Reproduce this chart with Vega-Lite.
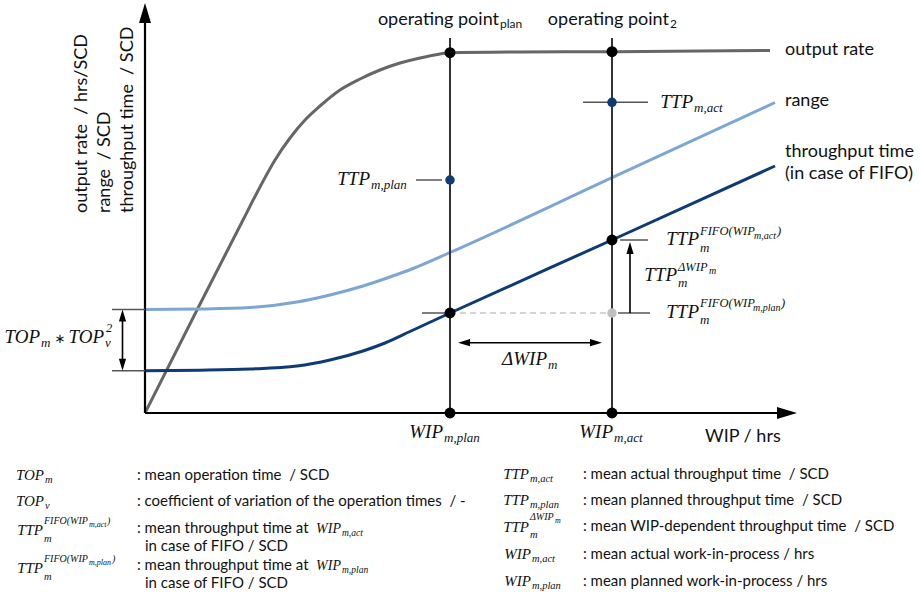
{
"$schema": "https://vega.github.io/schema/vega-lite/v6.json",
"width": 921, "height": 592,
"autosize": {"type": "fit", "contains": "padding"},
"padding": 0,
"background": "white",
"config": {"view": {"stroke": null}},
"datasets": {
"curves": [
{"s":"output","o":1,"x":0,"y":0},{"s":"output","o":2,"x":8,"y":25.75},{"s":"output","o":3,"x":15.077,"y":48.25},{"s":"output","o":4,"x":17.692,"y":56.5},{"s":"output","o":5,"x":20,"y":63.25},{"s":"output","o":6,"x":22.308,"y":68.75},{"s":"output","o":7,"x":24.615,"y":73.25},{"s":"output","o":8,"x":26.923,"y":76.75},{"s":"output","o":9,"x":30,"y":80.75},{"s":"output","o":10,"x":33.077,"y":83.5},{"s":"output","o":11,"x":36.154,"y":85.75},{"s":"output","o":12,"x":39.231,"y":87.5},{"s":"output","o":13,"x":42.308,"y":88.75},{"s":"output","o":14,"x":45.385,"y":89.75},{"s":"output","o":15,"x":46.923,"y":90.075},{"s":"output","o":16,"x":57.692,"y":90.25},{"s":"output","o":17,"x":71.846,"y":90.325},{"s":"output","o":18,"x":85.385,"y":90.5},{"s":"output","o":19,"x":96.154,"y":90.625},
{"s":"range","o":1,"x":0,"y":25.875},{"s":"range","o":2,"x":8.462,"y":26},{"s":"range","o":3,"x":16.154,"y":26.375},{"s":"range","o":4,"x":23.385,"y":27.75},{"s":"range","o":5,"x":28.462,"y":29.5},{"s":"range","o":6,"x":33.538,"y":31.75},{"s":"range","o":7,"x":37.692,"y":34},{"s":"range","o":8,"x":41.231,"y":36.125},{"s":"range","o":9,"x":46.923,"y":40.125},{"s":"range","o":10,"x":71.846,"y":58.825},{"s":"range","o":11,"x":96.923,"y":77.625},
{"s":"tput","o":1,"x":0,"y":10.575},{"s":"tput","o":2,"x":8.462,"y":10.7},{"s":"tput","o":3,"x":16.154,"y":11},{"s":"tput","o":4,"x":23.385,"y":11.75},{"s":"tput","o":5,"x":28.462,"y":13.25},{"s":"tput","o":6,"x":33.538,"y":15.5},{"s":"tput","o":7,"x":36.923,"y":17.5},{"s":"tput","o":8,"x":40.769,"y":20.375},{"s":"tput","o":9,"x":46.923,"y":25},{"s":"tput","o":10,"x":71.846,"y":43.25},{"s":"tput","o":11,"x":96.923,"y":61.75}
],
"axes": [{"x":0,"y":0,"x2":0,"y2":99.5},{"x":0,"y":0,"x2":98.769,"y2":0}],
"guides": [{"x":46.923,"y":0,"x2":46.923,"y2":93.75},{"x":71.846,"y":0,"x2":71.846,"y2":93.75}],
"ticks": [
{"x":41.692,"y":58.25,"x2":45.692,"y2":58.25},
{"x":67.385,"y":77.675,"x2":77.385,"y2":77.675},
{"x":73.077,"y":43.25,"x2":77.385,"y2":43.25},
{"x":72.769,"y":25,"x2":77.692,"y2":25},
{"x":42.615,"y":25,"x2":46.923,"y2":25},
{"x":-5.077,"y":25.875,"x2":0,"y2":25.875},
{"x":-5.077,"y":10.575,"x2":0,"y2":10.575}
],
"arrows": [
{"x":-3.462,"y":12.075,"x2":-3.462,"y2":24.375},
{"x":74.615,"y":25,"x2":74.615,"y2":41.25},
{"x":49.077,"y":17.575,"x2":69.385,"y2":17.575}
],
"dashed": [{"x":46.923,"y":25,"x2":71.846,"y2":25}],
"heads": [
{"x":-3.462,"y":24.375,"dir":"up"},
{"x":-3.462,"y":12.075,"dir":"down"},
{"x":74.615,"y":41.25,"dir":"up"},
{"x":49.077,"y":17.575,"dir":"left"},
{"x":69.385,"y":17.575,"dir":"right"}
],
"bigheads": [{"x":0,"y":100,"dir":"up"},{"x":98.769,"y":0,"dir":"right"}],
"dots": [
{"k":"black","x":46.923,"y":90.075},{"k":"black","x":71.846,"y":90.325},{"k":"black","x":46.923,"y":25},{"k":"black","x":71.846,"y":43.25},{"k":"black","x":46.923,"y":0},{"k":"black","x":71.846,"y":0},
{"k":"blue","x":46.923,"y":58.25},{"k":"blue","x":71.846,"y":77.675},
{"k":"gray","x":71.846,"y":25}
],
"sans": [
{"t":"operating point","x":54.462,"y":97.125,"r":"op"},
{"t":"operating point","x":80.615,"y":97.125,"r":"op"},
{"t":"plan","x":54.615,"y":96.25,"r":"os"},
{"t":"2","x":80.769,"y":96.25,"r":"os"},
{"t":"output rate","x":98.462,"y":90.75,"r":"lab"},
{"t":"range","x":98.462,"y":78,"r":"lab"},
{"t":"throughput time","x":98.462,"y":65.25,"r":"lab"},
{"t":"(in case of FIFO)","x":98.462,"y":59.75,"r":"lab"},
{"t":"WIP / hrs","x":86.154,"y":-6,"r":"lab"},
{"t":"output rate\u00a0 / hrs/SCD","x":-9.692,"y":50,"r":"yt"},
{"t":"range\u00a0 / SCD","x":-6.154,"y":50,"r":"yt"},
{"t":"throughput time\u00a0 / SCD","x":-2.615,"y":50,"r":"yt"},
{"t":": mean operation time\u00a0 / SCD","x":-1.231,"y":-15.5,"r":"leg"},
{"t":": coefficient of variation of the operation times\u00a0 / -","x":-1.231,"y":-22,"r":"leg"},
{"t":": mean throughput time at","x":-1.231,"y":-28.75,"r":"leg"},
{"t":"in case of FIFO / SCD","x":0,"y":-33.25,"r":"leg"},
{"t":": mean throughput time at","x":-1.231,"y":-38,"r":"leg"},
{"t":"in case of FIFO / SCD","x":0,"y":-42.5,"r":"leg"},
{"t":": mean actual throughput time\u00a0 / SCD","x":67.385,"y":-15.25,"r":"leg"},
{"t":": mean planned throughput time\u00a0 / SCD","x":67.385,"y":-21.75,"r":"leg"},
{"t":": mean WIP-dependent throughput time\u00a0 / SCD","x":67.385,"y":-28.25,"r":"leg"},
{"t":": mean actual work-in-process / hrs","x":67.385,"y":-35.25,"r":"leg"},
{"t":": mean planned work-in-process / hrs","x":67.385,"y":-42,"r":"leg"}
],
"math": [
{"t":"TTP","x":34.615,"y":57,"r":"pm"},
{"t":"m,plan","x":34.769,"y":56,"r":"ps"},
{"t":"TTP","x":84.308,"y":76.25,"r":"pm"},
{"t":"m,act","x":84.462,"y":75.25,"r":"ps"},
{"t":"TTP","x":85.231,"y":42,"r":"pm"},
{"t":"m","x":85.385,"y":40.25,"r":"ps"},
{"t":"FIFO(WIP","x":85.385,"y":44.5,"r":"pp"},
{"t":"m,act","x":93.692,"y":43.5,"r":"pq"},
{"t":")","x":97.231,"y":44.5,"r":"pp"},
{"t":"TTP","x":81.846,"y":33,"r":"pm"},
{"t":"m","x":82,"y":31.5,"r":"ps"},
{"t":"ΔWIP","x":82,"y":35.5,"r":"pp"},
{"t":"m","x":86.769,"y":34.75,"r":"pq"},
{"t":"TTP","x":85.231,"y":23.75,"r":"pm"},
{"t":"m","x":85.385,"y":22.25,"r":"ps"},
{"t":"FIFO(WIP","x":85.385,"y":26.5,"r":"pp"},
{"t":"m,plan","x":93.538,"y":25.5,"r":"pq"},
{"t":")","x":97.846,"y":26.5,"r":"pp"},
{"t":"ΔWIP","x":61.846,"y":12,"r":"pm"},
{"t":"m","x":62,"y":11,"r":"ps"},
{"t":"WIP","x":45.846,"y":-6.25,"r":"pm"},
{"t":"m,plan","x":46,"y":-7.25,"r":"ps"},
{"t":"WIP","x":72,"y":-6.25,"r":"pm"},
{"t":"m,act","x":72.154,"y":-7.25,"r":"ps"},
{"t":"TOP","x":-16.154,"y":17.5,"r":"pm"},
{"t":"m","x":-16,"y":16.5,"r":"ps"},
{"t":"∗","x":-13.077,"y":17.5,"r":"pa"},
{"t":"TOP","x":-6.308,"y":17.5,"r":"pm"},
{"t":"v","x":-6.154,"y":16.5,"r":"ps"},
{"t":"2","x":-6,"y":20.25,"r":"pp"},
{"t":"TOP","x":-15.538,"y":-16.75,"r":"lm"},
{"t":"m","x":-15.385,"y":-17.5,"r":"ls"},
{"t":"TOP","x":-15.538,"y":-23.25,"r":"lm"},
{"t":"v","x":-15.385,"y":-24,"r":"ls"},
{"t":"TTP","x":-15.692,"y":-30.5,"r":"lm"},
{"t":"m","x":-15.538,"y":-32.25,"r":"ls"},
{"t":"FIFO(WIP","x":-15.538,"y":-27.75,"r":"lp"},
{"t":"m,act","x":-8.615,"y":-28.5,"r":"lq"},
{"t":")","x":-5.846,"y":-27.75,"r":"lp"},
{"t":"WIP","x":30.154,"y":-30,"r":"dm"},
{"t":"m,act","x":30.308,"y":-30.75,"r":"ds"},
{"t":"TTP","x":-15.692,"y":-40,"r":"lm"},
{"t":"m","x":-15.538,"y":-41.75,"r":"ls"},
{"t":"FIFO(WIP","x":-15.538,"y":-37.25,"r":"lp"},
{"t":"m,plan","x":-8.615,"y":-38,"r":"lq"},
{"t":")","x":-5.077,"y":-37.25,"r":"lp"},
{"t":"WIP","x":30.154,"y":-39.25,"r":"dm"},
{"t":"m,plan","x":30.308,"y":-40,"r":"ds"},
{"t":"TTP","x":59.077,"y":-16.5,"r":"lm"},
{"t":"m,act","x":59.231,"y":-17.25,"r":"ls"},
{"t":"TTP","x":59.077,"y":-23,"r":"lm"},
{"t":"m,plan","x":59.231,"y":-23.75,"r":"ls"},
{"t":"TTP","x":59.077,"y":-29.75,"r":"lm"},
{"t":"m","x":59.231,"y":-31.25,"r":"ls"},
{"t":"ΔWIP","x":59.231,"y":-26.75,"r":"lp"},
{"t":"m","x":63.077,"y":-27.5,"r":"lq"},
{"t":"WIP","x":59.385,"y":-36.5,"r":"lm"},
{"t":"m,act","x":59.538,"y":-37.25,"r":"ls"},
{"t":"WIP","x":59.385,"y":-43.25,"r":"lm"},
{"t":"m,plan","x":59.538,"y":-44,"r":"ls"}
]
},
"encoding": {
"x": {"field": "x", "type": "quantitative", "axis": null, "scale": {"domain": [-22.3077, 119.3846], "nice": false, "zero": false}},
"y": {"field": "y", "type": "quantitative", "axis": null, "scale": {"domain": [-44.75, 103.25], "nice": false, "zero": false}}
},
"layer": [
{"data": {"name": "curves"}, "mark": {"type": "line", "interpolate": "monotone", "strokeWidth": 3, "strokeCap": "butt"},
 "encoding": {"color": {"field": "s", "type": "nominal", "scale": {"domain": ["output", "range", "tput"], "range": ["#666666", "#7ea6d3", "#0e3b74"]}, "legend": null}, "order": {"field": "o", "type": "quantitative"}}},
{"data": {"name": "guides"}, "mark": {"type": "rule", "color": "#333333", "strokeWidth": 2}, "encoding": {"x2": {"field": "x2"}, "y2": {"field": "y2"}}},
{"data": {"name": "axes"}, "mark": {"type": "rule", "color": "#000000", "strokeWidth": 2.2}, "encoding": {"x2": {"field": "x2"}, "y2": {"field": "y2"}}},
{"data": {"name": "ticks"}, "mark": {"type": "rule", "color": "#555555", "strokeWidth": 1.5}, "encoding": {"x2": {"field": "x2"}, "y2": {"field": "y2"}}},
{"data": {"name": "dashed"}, "mark": {"type": "rule", "color": "#c8c8c8", "strokeWidth": 1.5, "strokeDash": [6, 4]}, "encoding": {"x2": {"field": "x2"}, "y2": {"field": "y2"}}},
{"data": {"name": "arrows"}, "mark": {"type": "rule", "color": "#000000", "strokeWidth": 1.6}, "encoding": {"x2": {"field": "x2"}, "y2": {"field": "y2"}}},
{"data": {"name": "heads"}, "mark": {"type": "point", "filled": true, "opacity": 1, "color": "#000000", "strokeWidth": 0, "size": 144},
 "encoding": {"shape": {"field": "dir", "type": "nominal", "scale": {"domain": ["up", "down", "left", "right"], "range": ["M0,-1L0.6,1L-0.6,1Z", "M0,1L0.6,-1L-0.6,-1Z", "M-1,0L1,-0.6L1,0.6Z", "M1,0L-1,-0.6L-1,0.6Z"]}, "legend": null}}},
{"data": {"name": "bigheads"}, "mark": {"type": "point", "filled": true, "opacity": 1, "color": "#000000", "strokeWidth": 0, "size": 400},
 "encoding": {"shape": {"field": "dir", "type": "nominal", "scale": {"domain": ["up", "down", "left", "right"], "range": ["M0,-1L0.6,1L-0.6,1Z", "M0,1L0.6,-1L-0.6,-1Z", "M-1,0L1,-0.6L1,0.6Z", "M1,0L-1,-0.6L-1,0.6Z"]}, "legend": null}}},
{"data": {"name": "dots"}, "transform": [{"filter": "datum.k === 'black'"}], "mark": {"type": "circle", "opacity": 1, "color": "#000000", "size": 120}},
{"data": {"name": "dots"}, "transform": [{"filter": "datum.k === 'blue'"}], "mark": {"type": "circle", "opacity": 1, "color": "#0e3b74", "size": 90}},
{"data": {"name": "dots"}, "transform": [{"filter": "datum.k === 'gray'"}], "mark": {"type": "circle", "opacity": 1, "color": "#c0c0c0", "size": 90}},
{"data": {"name": "sans"}, "transform": [{"filter": "datum.r === 'op'"}], "mark": {"type": "text", "font": "Lato", "fontSize": 18, "align": "right", "baseline": "alphabetic", "color": "#111111"}, "encoding": {"text": {"field": "t"}}},
{"data": {"name": "sans"}, "transform": [{"filter": "datum.r === 'os'"}], "mark": {"type": "text", "font": "Lato", "fontSize": 12, "align": "left", "baseline": "alphabetic", "color": "#111111"}, "encoding": {"text": {"field": "t"}}},
{"data": {"name": "sans"}, "transform": [{"filter": "datum.r === 'lab'"}], "mark": {"type": "text", "font": "Lato", "fontSize": 18, "align": "left", "baseline": "middle", "color": "#111111"}, "encoding": {"text": {"field": "t"}}},
{"data": {"name": "sans"}, "transform": [{"filter": "datum.r === 'yt'"}], "mark": {"type": "text", "font": "Lato", "fontSize": 18, "align": "left", "baseline": "middle", "angle": 270, "color": "#111111"}, "encoding": {"text": {"field": "t"}}},
{"data": {"name": "sans"}, "transform": [{"filter": "datum.r === 'leg'"}], "mark": {"type": "text", "font": "Lato", "fontSize": 15, "align": "left", "baseline": "middle", "color": "#111111"}, "encoding": {"text": {"field": "t"}}},
{"data": {"name": "math"}, "transform": [{"filter": "datum.r === 'pm'"}], "mark": {"type": "text", "font": "Liberation Serif", "fontStyle": "italic", "fontSize": 19, "align": "right", "baseline": "alphabetic", "color": "#111111"}, "encoding": {"text": {"field": "t"}}},
{"data": {"name": "math"}, "transform": [{"filter": "datum.r === 'pa'"}], "mark": {"type": "text", "font": "DejaVu Sans", "fontSize": 13, "align": "center", "baseline": "alphabetic", "color": "#111111"}, "encoding": {"text": {"field": "t"}}},
{"data": {"name": "math"}, "transform": [{"filter": "datum.r === 'ps'"}], "mark": {"type": "text", "font": "Liberation Serif", "fontStyle": "italic", "fontSize": 13, "align": "left", "baseline": "alphabetic", "color": "#111111"}, "encoding": {"text": {"field": "t"}}},
{"data": {"name": "math"}, "transform": [{"filter": "datum.r === 'pp'"}], "mark": {"type": "text", "font": "Liberation Serif", "fontStyle": "italic", "fontSize": 12.5, "align": "left", "baseline": "alphabetic", "color": "#111111"}, "encoding": {"text": {"field": "t"}}},
{"data": {"name": "math"}, "transform": [{"filter": "datum.r === 'pq'"}], "mark": {"type": "text", "font": "Liberation Serif", "fontStyle": "italic", "fontSize": 10, "align": "left", "baseline": "alphabetic", "color": "#111111"}, "encoding": {"text": {"field": "t"}}},
{"data": {"name": "math"}, "transform": [{"filter": "datum.r === 'lm'"}], "mark": {"type": "text", "font": "Liberation Serif", "fontStyle": "italic", "fontSize": 15, "align": "right", "baseline": "alphabetic", "color": "#111111"}, "encoding": {"text": {"field": "t"}}},
{"data": {"name": "math"}, "transform": [{"filter": "datum.r === 'ls'"}], "mark": {"type": "text", "font": "Liberation Serif", "fontStyle": "italic", "fontSize": 10.5, "align": "left", "baseline": "alphabetic", "color": "#111111"}, "encoding": {"text": {"field": "t"}}},
{"data": {"name": "math"}, "transform": [{"filter": "datum.r === 'lp'"}], "mark": {"type": "text", "font": "Liberation Serif", "fontStyle": "italic", "fontSize": 10, "align": "left", "baseline": "alphabetic", "color": "#111111"}, "encoding": {"text": {"field": "t"}}},
{"data": {"name": "math"}, "transform": [{"filter": "datum.r === 'lq'"}], "mark": {"type": "text", "font": "Liberation Serif", "fontStyle": "italic", "fontSize": 8, "align": "left", "baseline": "alphabetic", "color": "#111111"}, "encoding": {"text": {"field": "t"}}},
{"data": {"name": "math"}, "transform": [{"filter": "datum.r === 'dm'"}], "mark": {"type": "text", "font": "Liberation Serif", "fontStyle": "italic", "fontSize": 14, "align": "right", "baseline": "alphabetic", "color": "#111111"}, "encoding": {"text": {"field": "t"}}},
{"data": {"name": "math"}, "transform": [{"filter": "datum.r === 'ds'"}], "mark": {"type": "text", "font": "Liberation Serif", "fontStyle": "italic", "fontSize": 9.5, "align": "left", "baseline": "alphabetic", "color": "#111111"}, "encoding": {"text": {"field": "t"}}}
]
}
